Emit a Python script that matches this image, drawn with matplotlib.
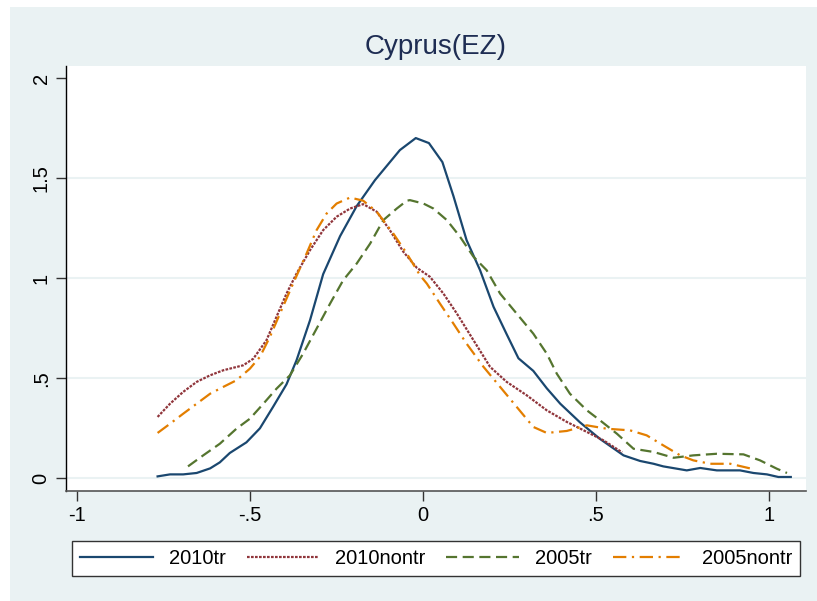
"""
Densidade kernel - Cyprus(EZ), estilo Stata s2color
"""

import matplotlib
matplotlib.use("Agg")
import matplotlib.pyplot as plt
from matplotlib.patches import Rectangle

plt.rcParams['font.family'] = ['Liberation Sans', 'DejaVu Sans']

# 2010tr
x_2010tr = [-0.768, -0.732, -0.694, -0.655, -0.616, -0.588, -0.559, -0.511, -0.472,
            -0.434, -0.395, -0.366, -0.327, -0.289, -0.240, -0.192, -0.139, -0.067,
            -0.021, 0.017, 0.056, 0.088, 0.126, 0.165, 0.204, 0.242, 0.276, 0.319,
            0.358, 0.397, 0.454, 0.512, 0.580, 0.628, 0.667, 0.695, 0.763, 0.802,
            0.850, 0.917, 0.956, 0.995, 1.028, 1.064]
y_2010tr = [0.01, 0.02, 0.02, 0.027, 0.05, 0.08, 0.127, 0.18, 0.25,
            0.357, 0.47, 0.59, 0.79, 1.02, 1.21, 1.36, 1.49, 1.64,
            1.70, 1.675, 1.58, 1.41, 1.19, 1.04, 0.857, 0.72, 0.60, 0.537,
            0.45, 0.373, 0.28, 0.197, 0.115, 0.087, 0.073, 0.06, 0.04, 0.052,
            0.04, 0.04, 0.027, 0.02, 0.007, 0.007]

# 2010nontr
x_2010nontr = [-0.768, -0.732, -0.694, -0.655, -0.616, -0.578, -0.520, -0.491, -0.453,
               -0.424, -0.395, -0.366, -0.327, -0.289, -0.250, -0.211, -0.173, -0.134,
               -0.096, -0.057, -0.018, 0.020, 0.059, 0.098, 0.146, 0.194, 0.242,
               0.300, 0.358, 0.416, 0.474, 0.522, 0.576]
y_2010nontr = [0.307, 0.373, 0.432, 0.482, 0.515, 0.54, 0.565, 0.598, 0.69,
               0.807, 0.923, 1.023, 1.14, 1.24, 1.307, 1.348, 1.37, 1.332,
               1.24, 1.132, 1.052, 1.007, 0.923, 0.823, 0.69, 0.557, 0.482,
               0.415, 0.34, 0.282, 0.232, 0.19, 0.13]

# 2005tr
x_2005tr = [-0.680, -0.636, -0.588, -0.540, -0.501, -0.462, -0.424, -0.385, -0.347,
            -0.308, -0.269, -0.231, -0.192, -0.153, -0.115, -0.076, -0.047, -0.038,
            0.001, 0.030, 0.069, 0.107, 0.146, 0.184, 0.223, 0.271, 0.319, 0.358,
            0.387, 0.425, 0.474, 0.512, 0.561, 0.609, 0.667, 0.725, 0.782, 0.850,
            0.927, 0.975, 1.024, 1.053]
y_2005tr = [0.06, 0.115, 0.173, 0.248, 0.298, 0.373, 0.448, 0.515, 0.623,
            0.748, 0.873, 0.99, 1.073, 1.173, 1.29, 1.348, 1.387, 1.39,
            1.373, 1.348, 1.29, 1.207, 1.107, 1.04, 0.923, 0.823, 0.723, 0.623,
            0.523, 0.423, 0.34, 0.29, 0.223, 0.148, 0.132, 0.103, 0.115, 0.123,
            0.12, 0.09, 0.048, 0.027]

# 2005nontr
x_2005nontr = [-0.768, -0.732, -0.694, -0.655, -0.616, -0.578, -0.540, -0.501, -0.472,
               -0.443, -0.414, -0.376, -0.337, -0.308, -0.279, -0.250, -0.211, -0.173,
               -0.134, -0.086, -0.047, -0.009, 0.011, 0.049, 0.088, 0.126, 0.175,
               0.223, 0.271, 0.319, 0.358, 0.416, 0.474, 0.532, 0.599, 0.647, 0.695,
               0.744, 0.782, 0.831, 0.889, 0.946]
y_2005nontr = [0.227, 0.273, 0.323, 0.373, 0.423, 0.457, 0.49, 0.548, 0.607,
               0.707, 0.823, 0.973, 1.123, 1.24, 1.323, 1.373, 1.403, 1.387,
               1.332, 1.223, 1.123, 1.015, 0.973, 0.873, 0.773, 0.673, 0.557,
               0.457, 0.357, 0.257, 0.227, 0.237, 0.265, 0.248, 0.24, 0.215, 0.165,
               0.115, 0.09, 0.073, 0.073, 0.05]

xticks = [-1, -0.5, 0, 0.5, 1]
xtick_labels = ['-1', '-.5', '0', '.5', '1']
yticks = [0, 0.5, 1, 1.5, 2]
ytick_labels = ['0', '.5', '1', '1.5', '2']

W, H = 817, 601
fig = plt.figure(figsize=(W / 100, H / 100), dpi=100, facecolor='white')
# fundo azul claro do Stata
fig.patches.append(Rectangle((10 / W, 0), 1 - 10 / W, 1 - 7 / H,
                             transform=fig.transFigure, facecolor='#EAF2F3',
                             edgecolor='none', zorder=-10))

ax = fig.add_axes([66 / W, 1 - 491 / H, (806 - 66) / W, (491 - 66) / H])
ax.set_zorder(1)
ax.set_facecolor('white')

ax.plot(x_2010tr, y_2010tr, color='#1A476F', linewidth=1.6, label='2010tr')
ax.plot(x_2010nontr, y_2010nontr, color='#90353B', linewidth=1.6,
        linestyle=(0, (1.2, 0.6)), label='2010nontr')
ax.plot(x_2005tr, y_2005tr, color='#55752F', linewidth=1.6,
        linestyle=(0, (5, 2.5)), label='2005tr')
ax.plot(x_2005nontr, y_2005nontr, color='#E37E00', linewidth=1.6,
        linestyle=(0, (6, 2.5, 1, 2.5)), label='2005nontr')

ax.set_xlim(-1.033, 1.108)
ax.set_ylim(-0.063, 2.06)

ax.set_xticks(xticks)
ax.set_xticklabels(xtick_labels)
ax.set_yticks(yticks)
ax.set_yticklabels(ytick_labels, rotation=90, va='center')
ax.tick_params(axis='both', direction='out', length=7, width=1,
               color='#333333', labelsize=14.5, labelcolor='black', pad=4)

for y in yticks[:-1]:
    ax.axhline(y, color='#EAF2F3', linewidth=1.5, zorder=0)

for s in ['top', 'right']:
    ax.spines[s].set_visible(False)
ax.spines['left'].set_color('black')
ax.spines['bottom'].set_color('#555555')
ax.spines['left'].set_linewidth(1)
ax.spines['bottom'].set_linewidth(1.2)

fig.text(436 / W, 1 - 47 / H, 'Cyprus(EZ)', ha='center', va='center',
         fontsize=20, color='#1E2D53')

handles, labels = ax.get_legend_handles_labels()
leg = fig.legend(handles, labels, loc='lower left', ncol=4,
                 bbox_to_anchor=(72 / W, 1 - 576 / H, (800 - 72) / W, (576 - 537) / H),
                 mode='expand', frameon=True, fancybox=False, fontsize=14.5,
                 handlelength=3.6, borderaxespad=0, borderpad=0.4,
                 columnspacing=1.5, framealpha=1)
leg.get_frame().set_edgecolor('#333333')
leg.get_frame().set_facecolor('white')
leg.get_frame().set_linewidth(1)

fig.savefig('out.png', dpi=100, facecolor='white')
